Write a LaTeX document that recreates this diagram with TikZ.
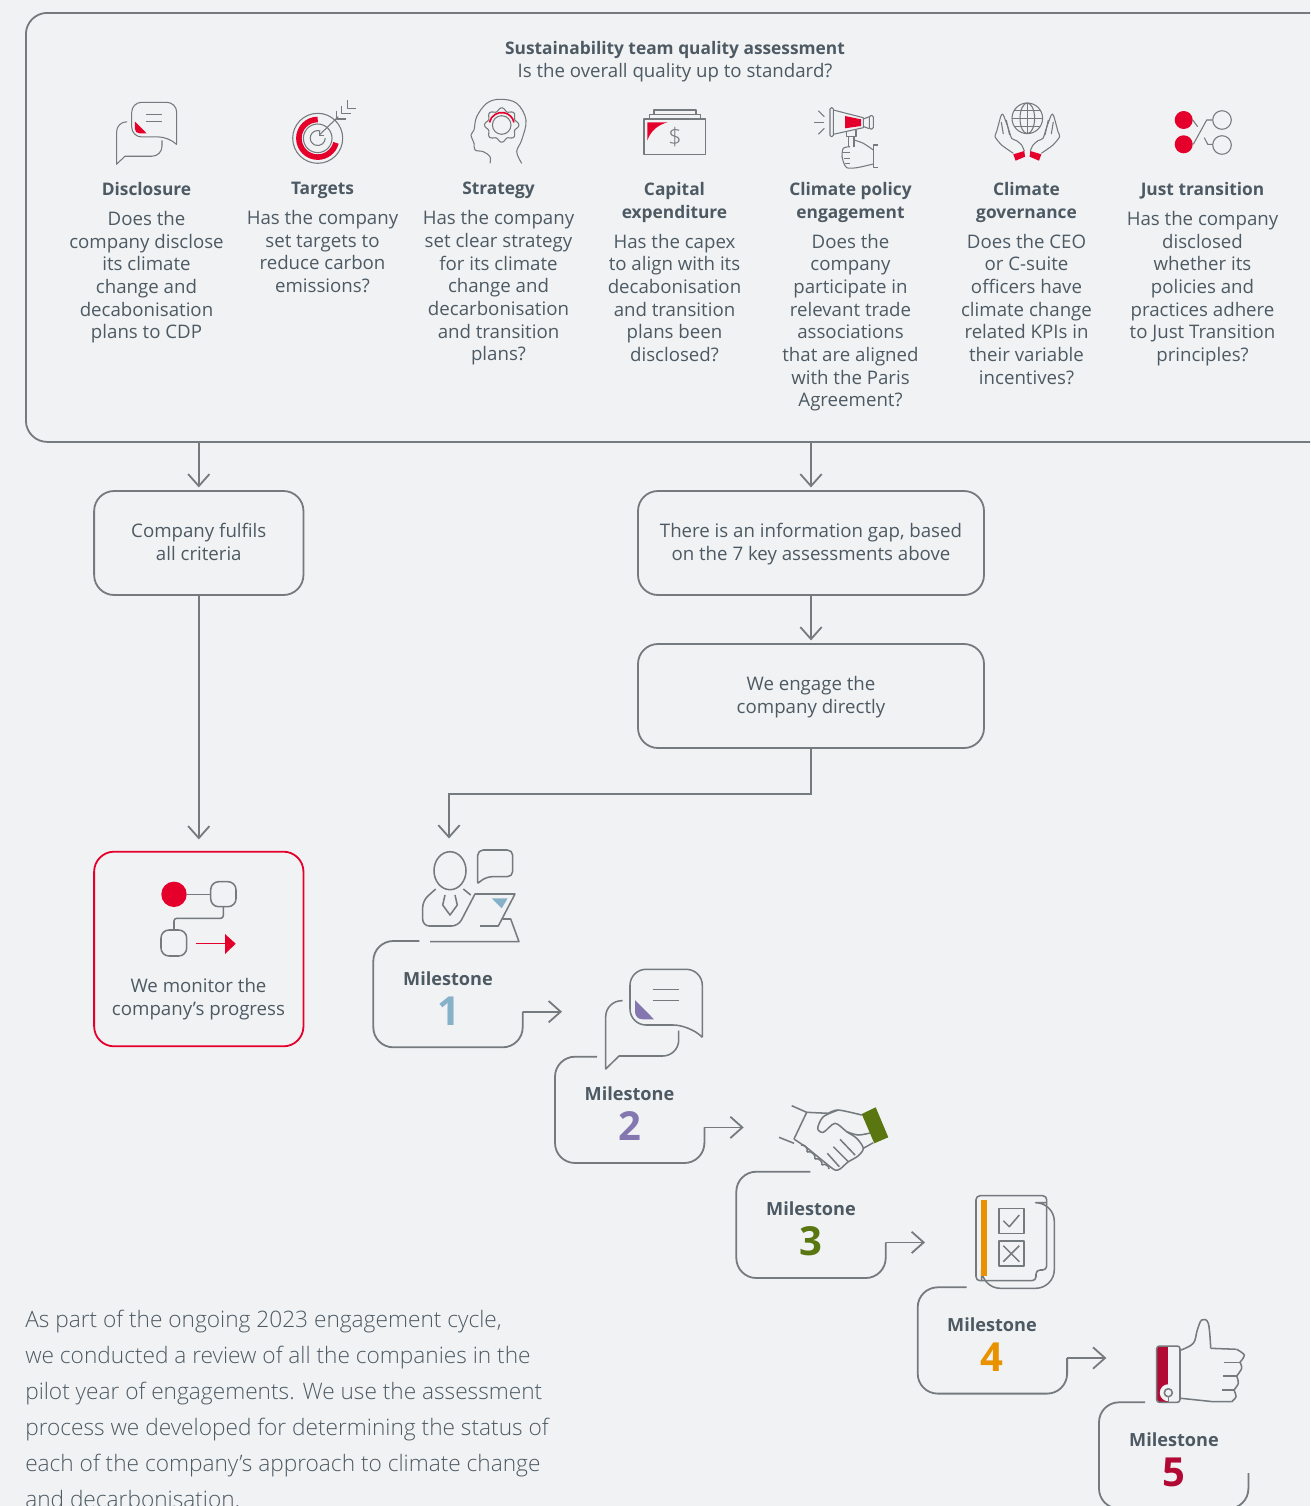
\documentclass[tikz,border=0pt]{standalone}
\usepackage{fontspec}
\setmainfont{Open Sans}
\newfontfamily\lightfont{Open Sans Light}
\usepackage{tikz}
\usetikzlibrary{positioning}
\usetikzlibrary{arrows,arrows.meta}
\usetikzlibrary{calc}

\definecolor{paper}{HTML}{F1F2F4}
\definecolor{linegrey}{HTML}{747A7D}
\definecolor{textgrey}{HTML}{4D5A63}
\definecolor{alarm}{HTML}{E4002B}
\definecolor{msone}{HTML}{87B1C8}
\definecolor{mstwo}{HTML}{8477B0}
\definecolor{msthree}{HTML}{5A7610}
\definecolor{msfour}{HTML}{E89200}
\definecolor{msfive}{HTML}{B20A35}

\tikzstyle{line} = [draw=linegrey, line width=1.35pt]
\tikzstyle{icon} = [draw=linegrey, line width=.8pt, line join=round]
\tikzstyle{bigicon} = [draw=linegrey, line width=1.15pt, line join=round]
\tikzstyle{flow} = [line, ->, >={Straight Barb[length=9pt,width=16pt,line width=1.35pt]}]
\tikzstyle{stepbox} = [line, rounded corners=15pt, align=center, text=textgrey, font=\fontsize{14}{17}\selectfont, minimum height=78pt, inner sep=0]
\tikzstyle{coltext} = [align=center, text=textgrey, font=\fontsize{14}{17}\selectfont, inner sep=0, anchor=north]
\tikzstyle{mstitle} = [text=textgrey, font=\fontsize{13.6}{17}\selectfont\bfseries, inner sep=0]
\tikzstyle{msnum} = [font=\fontsize{30}{30}\selectfont\bfseries, inner sep=0]

\newcommand{\hd}[1]{{\fontsize{13}{17}\selectfont\bfseries #1}}
\newcommand{\boxtop}{\rule{0pt}{14.1pt}}
\newcommand{\milestonebox}[4]{
    \coordinate (ms#4end) at (#1+149.4,#2+70.7);
    \coordinate (ms#4tip) at (#1+188.7,#2+70.7);
    \draw[line, rounded corners=15pt] (#1+#3,#2) -- (#1,#2) -- (#1,#2+106.3) -- (#1+149.4,#2+106.3) [sharp corners] -- (ms#4end);
}
\newcommand{\bubbleicon}[5]{
    \begin{scope}[shift={(#1,#2)}, scale=#3]
        \draw[#5, rounded corners=#3*12pt] (72.3,68) -- (72.3,0) -- (0,0) -- (0,55.7) -- (59.3,55.7) [sharp corners] -- (72.3,68);
        \draw[#5, rounded corners=#3*12pt] (-7.3,31.4) -- (-24.3,31.4) [sharp corners] -- (-24.3,99.7) -- (-11,86.7) [rounded corners=#3*12pt] -- (48.7,86.7) -- (48.7,61.4);
        \draw[#5] (22.7,20) -- (49,20);
        \draw[#5] (22.7,31.4) -- (49,31.4);
        \fill[#4] (5,30.7) -- (24,50) -- (13,50) .. controls (8,50) and (5,47) .. (5,42) -- cycle;
    \end{scope}
}

\begin{document}
\begin{tikzpicture}[x=.75pt, y=-.75pt]

    \useasboundingbox (0,0) rectangle (1310,1506);
    \clip (0,0) rectangle (1310,1506);
    \fill[paper] (0,0) rectangle (1310,1506);

    % panel
    \node[line, rounded corners=16pt, minimum width=1100pt, minimum height=321.75pt, anchor=north west, inner sep=0] (panel) at (25,12) {};
    \node[coltext] (quality) at (675,41.5) {\hd{Sustainability team quality assessment}\\Is the overall quality up to standard?};

    % columns
    \node[coltext] (disclosure) at (146.5,182) {\hd{Disclosure}\\[5.5pt]Does the\\company disclose\\its climate\\change and\\decabonisation\\plans to CDP};
    \node[coltext] (targets) at (322.5,182) {\hd{Targets}\\[5.5pt]Has the company\\set targets to\\reduce carbon\\emissions?};
    \node[coltext] (strategy) at (498.5,182) {\hd{Strategy}\\[5.5pt]Has the company\\set clear strategy\\for its climate\\change and\\decarbonisation\\and transition\\plans?};
    \node[coltext] (capex) at (674.5,182) {\hd{Capital}\\\hd{expenditure}\\[5.5pt]Has the capex\\to align with its\\decabonisation\\and transition\\plans been\\disclosed?};
    \node[coltext] (policy) at (850.5,182) {\hd{Climate policy}\\\hd{engagement}\\[5.5pt]Does the\\company\\participate in\\relevant trade\\associations\\that are aligned\\with the Paris\\Agreement?};
    \node[coltext] (governance) at (1026.5,182) {\hd{Climate}\\\hd{governance}\\[5.5pt]Does the CEO\\or C-suite\\officers have\\climate change\\related KPIs in\\their variable\\incentives?};
    \node[coltext] (transition) at (1202.5,182) {\hd{Just transition}\\[5.5pt]Has the company\\disclosed\\whether its\\policies and\\practices adhere\\to Just Transition\\principles?};

    % disclosure icon
    \bubbleicon{131.7}{102.3}{.622}{alarm}{icon}

    % targets icon
    \draw[icon] (317.7,138.3) circle (25);
    \draw[icon] (317.7,138.3) circle (14.3);
    \draw[icon] (320.3,131) arc (-70:-360:7.5);
    \draw[alarm, line width=4.2pt] (317.7,119.5) arc (-90:-346:18.8);
    \draw[icon] (319.3,135) -- (338.3,116.7);
    \draw[icon] (319.3,130.7) -- (319.3,135.7) -- (324.3,135.7);
    \draw[icon] (336.7,110.7) -- (336.7,119) -- (345.7,119);
    \draw[icon] (341.7,105.7) -- (341.7,113.3) -- (350.7,113.3);
    \draw[icon] (347.3,100) -- (347.3,108.3) -- (356,108.3);

    % strategy icon
    \draw[icon] plot[smooth, tension=.6] coordinates {(490,163.3) (490,156.7) (483.3,151.7) (475,150) (474,143.3) (471,135) (474,130) (476.7,116.7) (486.7,103.3) (500,99.3) (516.7,103.3) (526,120) (521.7,140) (516.7,151.7) (521.7,163.3)};
    \draw[icon, shift={(501.7,125)}] plot[domain=0:360, samples=97, smooth] (\x:{15.6+1.6*cos(8*\x)}) -- cycle;
    \draw[icon] (501.7,125) circle (9.3);
    \draw[alarm, line width=1.2pt] (489.5,122.4) arc (-168:-12:12.5);

    % capex icon
    \draw[icon] (644,119) rectangle (705.7,154.3);
    \draw[icon] (649.3,119) -- (649.3,114.3) -- (700.7,114.3) -- (700.7,119);
    \draw[icon] (654,114.3) -- (654,110) -- (696,110) -- (696,114.3);
    \fill[alarm] (647.3,122.3) -- (667.7,122.3) .. controls (657,125) and (650,132) .. (647.3,140.7) -- cycle;
    \node[text=linegrey, font=\lightfont\fontsize{18}{18}\selectfont, inner sep=0] (dollar) at (675,137) {\$};

    % policy icon
    \draw[icon, rounded corners=1pt] (830,107.7) rectangle (833.3,136.7);
    \draw[icon] (833.3,110) -- (863.3,117.7) -- (863.3,127.7) -- (833.3,134.3);
    \draw[icon] (863.3,119) -- (869.3,116.7);
    \draw[icon] (863.3,126.5) -- (869.3,128.7);
    \draw[icon, rounded corners=1pt] (869.3,115.7) rectangle (873.3,129);
    \fill[alarm] (845,116) -- (861,119.3) -- (861,126) -- (845,128.3) -- cycle;
    \draw[icon] (818.3,110.7) -- (824.3,116.7);
    \draw[icon] (814.3,122.7) -- (824.3,122.7);
    \draw[icon] (818.3,134.3) -- (824.3,128.3);
    \draw[icon] (846.7,131) -- (846.7,136.7) -- (856,136.7) -- (856,130);
    \draw[icon] (848.7,136.7) -- (848.7,146.7);
    \draw[icon] (854,136.7) -- (854,146.7);
    \draw[icon] plot[smooth] coordinates {(854,140) (863.3,143.3) (873.3,150)};
    \draw[icon] (878,145) -- (873.3,145) -- (873.3,167.3) -- (878,167.3);
    \draw[icon] plot[smooth] coordinates {(873.3,164) (856.7,167.7) (846.7,167.7) (843.3,161.7) (842,156.7) (843.3,148.3) (850,146.7)};
    \draw[icon] (843.3,152.3) -- (850,152.3);
    \draw[icon] (844,158.3) -- (850,158.3);
    \draw[icon] (845,163.3) -- (850,163.3);

    % governance icon
    \draw[icon] (1027.3,118.3) circle (15.3);
    \draw[icon] (1027.3,118.3) ellipse (7.3 and 15.3);
    \draw[icon] (1027.3,103) -- (1027.3,133.6);
    \draw[icon] (1012,118.3) -- (1042.6,118.3);
    \draw[icon] (1014.3,110.3) -- (1040.3,110.3);
    \draw[icon] (1014.3,126.3) -- (1040.3,126.3);
    \foreach \s in {1,-1} {
        \begin{scope}[shift={(1027.3,0)}, xscale=\s]
            \draw[icon] plot[smooth, tension=.4] coordinates {(-3,151) (-5.7,145) (-10.7,140.7) (-15.7,138.3) (-19,128.3) (-24,115) (-26.3,115.7) (-30.7,131.7) (-32.3,136.7) (-25.7,145) (-14,153.3)};
            \draw[icon] (-21,120) -- (-17.7,135);
            \draw[icon] (-26,122) -- (-24,134);
            \fill[alarm] (-14,154.3) -- (-3,151) -- (-2.3,156.7) -- (-11.7,160.7) -- cycle;
        \end{scope}
    }

    % transition icon
    \fill[alarm] (1183.7,120) circle (9);
    \fill[alarm] (1183.7,144.3) circle (9);
    \draw[icon] (1222,120) circle (9.3);
    \draw[icon] (1222,145) circle (9.3);
    \draw[icon] (1192.7,120) -- (1197.7,126.7);
    \draw[icon] (1193.3,144.3) -- (1206.7,120) -- (1212.3,120);
    \draw[icon] (1204.3,137.7) -- (1207.7,144.3) -- (1212.7,144.3);

    % boxes
    \node[stepbox, minimum width=157pt] (fulfils) at (198.8,543) {\boxtop Company fulfils\\all criteria\strut};
    \node[stepbox, minimum width=259.5pt] (gap) at (811,543) {\boxtop There is an information gap, based\\on the 7 key assessments above\strut};
    \node[stepbox, minimum width=259.5pt] (engage) at (811,696) {\boxtop We engage the\\company directly\strut};
    \node[stepbox, draw=alarm, minimum width=157pt, minimum height=146pt] (monitor) at (198.8,949) {};
    \node[coltext] (monitortext) at (198.5,978.5) {We monitor the\\company’s progress};

    \draw[flow, shorten >=2pt] (fulfils |- panel.south) -- (fulfils.north);
    \draw[flow, shorten >=2pt] (gap |- panel.south) -- (gap.north);
    \draw[flow, shorten >=2pt] (gap.south) -- (engage.north);
    \draw[flow, shorten >=8.5pt] (fulfils.south) -- (monitor.north);
    \coordinate (msin) at (449,838.5);
    \draw[flow] (engage.south) -- ++(0,45) -| (msin);

    % monitor icon
    \fill[alarm] (174,894.3) circle (12.7);
    \draw[bigicon] (186.7,894.3) -- (210.7,894.3);
    \draw[bigicon, rounded corners=6pt] (210.7,881.7) rectangle (236,906.7);
    \draw[bigicon, rounded corners=2pt] (223.3,906.7) -- (223.3,918.3) -- (174,918.3) -- (174,930);
    \draw[bigicon, rounded corners=6pt] (161,930) rectangle (186.7,956);
    \draw[alarm, line width=.9pt] (196,943.7) -- (225,943.7);
    \fill[alarm] (225,934) -- (235.7,943.7) -- (225,954) -- cycle;

    % milestones
    \milestonebox{373.3}{941}{46}{1}
    \milestonebox{555}{1056.7}{42}{2}
    \milestonebox{736.3}{1171.7}{74}{3}
    \milestonebox{917.7}{1287.3}{49}{4}
    \milestonebox{1099}{1402.3}{46}{5}
    \foreach \i in {1,...,4} {
        \draw[flow] (ms\i end) -- (ms\i tip);
    }

    \node[mstitle] (mstitle1) at (448,979) {Milestone};
    \node[mstitle] (mstitle2) at (629.5,1094) {Milestone};
    \node[mstitle] (mstitle3) at (811,1209) {Milestone};
    \node[mstitle] (mstitle4) at (992,1325) {Milestone};
    \node[mstitle] (mstitle5) at (1174,1440) {Milestone};
    \node[msnum, text=msone] (msnum1) at (448.5,1011) {1};
    \node[msnum, text=mstwo] (msnum2) at (629.5,1126) {2};
    \node[msnum, text=msthree] (msnum3) at (811,1241) {3};
    \node[msnum, text=msfour] (msnum4) at (992,1357) {4};
    \node[msnum, text=msfive] (msnum5) at (1174,1472) {5};

    % person icon
    \draw[bigicon] (450,870.7) ellipse (16 and 19);
    \draw[bigicon, rounded corners=4pt] (477.7,883.3) -- (477.7,850) -- (512.7,850) -- (512.7,876.7) -- (486.7,876.7) [sharp corners] -- (477.7,883.3);
    \draw[bigicon, rounded corners=5pt] (435.7,889) -- (422.7,900.7) -- (422.7,926) -- (458.3,926) [sharp corners] -- (475,894) -- (515,894) -- (498.3,926) -- (480,926);
    \draw[bigicon] (463.3,889) -- (470.7,895);
    \draw[bigicon] (445,895) -- (442.7,905) -- (450,915) -- (457.3,905) -- (455,895);
    \fill[msone] (491.7,898.3) -- (507.7,898.3) -- (501.7,908.3) -- cycle;
    \draw[bigicon] (502.7,919) -- (510.7,919) -- (519,941.7) -- (430,941.7);

    % bubble icon
    \bubbleicon{630}{969.3}{1}{mstwo}{bigicon}

    % handshake icon
    \fill[msthree] (861.7,1114) -- (875.7,1107.3) -- (888.3,1137.3) -- (874.3,1143.3) -- cycle;
    \draw[bigicon] (791.7,1105.7) -- (806.7,1112.3) -- (794,1139);
    \draw[bigicon] (779,1137.3) -- (794,1143.3);
    \draw[bigicon] (806.7,1112.3) -- (828.3,1113.3);
    \draw[bigicon] plot[smooth] coordinates {(828.3,1113.3) (838.3,1110) (861.7,1115)};
    \draw[bigicon] plot[smooth, tension=.5] coordinates {(838.3,1110) (823.3,1116.7) (817.7,1128.3) (823.3,1132.3) (835,1123.3) (846.7,1131.7) (856.7,1138.3) (863.3,1148.3) (858,1156) (848,1162) (840,1169) (835,1170) (828,1165)};
    \draw[bigicon] (828,1165) -- (806,1147) -- (794,1139);
    \draw[bigicon] (801,1145) to[bend left=70] (807,1152);
    \draw[bigicon] (807,1152) to[bend left=70] (815,1159);
    \draw[bigicon] (815,1159) to[bend left=70] (822,1165);
    \draw[bigicon] (822,1165) to[bend left=70] (829,1169);
    \draw[bigicon] (840,1139.3) -- (855,1155);
    \draw[bigicon] (833.3,1146.7) -- (848.3,1161.7);
    \draw[bigicon] (827.3,1153.3) -- (839.3,1166.7);
    \draw[bigicon] plot[smooth] coordinates {(846.7,1131.7) (858,1135) (870,1133)};
    \draw[bigicon] (863.3,1148.3) -- (873.3,1142.7);

    % checklist icon
    \draw[bigicon, rounded corners=3pt] (976,1195.7) -- (1046.7,1195.7) -- (1046.7,1270) -- (1036,1270) -- (1036,1280.7) -- (976,1280.7) -- cycle;
    \draw[bigicon, rounded corners=14pt] (1046.7,1202.7) -- (1054.3,1202.7) -- (1054.3,1288.3) -- (981.7,1288.3) [sharp corners] -- (981.7,1280.7);
    \fill[msfour] (981,1200) rectangle (987,1276);
    \draw[bigicon] (999,1208.3) rectangle (1024,1233.3);
    \draw[bigicon] (999,1241) rectangle (1024,1266);
    \draw[bigicon] (1003.3,1220.7) -- (1009.3,1226.7) -- (1019.3,1215);
    \draw[bigicon] (1003.3,1245.7) -- (1019.3,1261.7);
    \draw[bigicon] (1003.3,1261.7) -- (1019.3,1245.7);

    % thumb icon
    \fill[msfive] (1156.7,1346.7) -- (1168.3,1346.7) -- (1168.3,1402) -- (1156.7,1402) -- cycle;
    \fill[paper] (1168.3,1392.7) circle (8.5);
    \fill[paper] (1168.3,1380) rectangle (1179,1402);
    \draw[bigicon, rounded corners=2pt] (1156.7,1346) rectangle (1180,1402.3);
    \draw[bigicon] (1168.3,1392.7) circle (4);
    \draw[bigicon] (1168.3,1396.7) -- (1168.3,1402.3);
    \draw[bigicon] plot[smooth, tension=.6] coordinates {(1181,1350) (1193.3,1343.3) (1197.3,1330) (1201.7,1320) (1208.3,1323.3) (1210.7,1348.3)};
    \draw[bigicon] (1210.7,1348.3) -- (1236.7,1349.3);
    \draw[bigicon] plot[smooth] coordinates {(1236.7,1349.3) (1244.3,1355) (1240,1362.3)};
    \draw[bigicon] (1240,1362.3) -- (1224.3,1362.3);
    \draw[bigicon] plot[smooth] coordinates {(1240,1362.3) (1241.7,1368.3) (1236.7,1376)};
    \draw[bigicon] (1236.7,1376) -- (1223.3,1376);
    \draw[bigicon] plot[smooth] coordinates {(1236.7,1376) (1238.3,1383.3) (1234,1390)};
    \draw[bigicon] (1234,1390) -- (1222.3,1390);
    \draw[bigicon] plot[smooth] coordinates {(1234,1390) (1236,1396.7) (1231.7,1401.7)};
    \draw[bigicon] (1231.7,1401.7) -- (1213.3,1401.7) -- (1181,1398.3);

    % paragraph
    \node[align=left, text=textgrey, font=\lightfont\fontsize{17}{27}\selectfont, inner sep=0, anchor=north west] (summary) at (25,1309.5) {As part of the ongoing 2023 engagement cycle,\\we conducted a review of all the companies in the\\pilot year of engagements. We use the assessment\\process we developed for determining the status of\\each of the company’s approach to climate change\\and decarbonisation.};

\end{tikzpicture}
\end{document}
